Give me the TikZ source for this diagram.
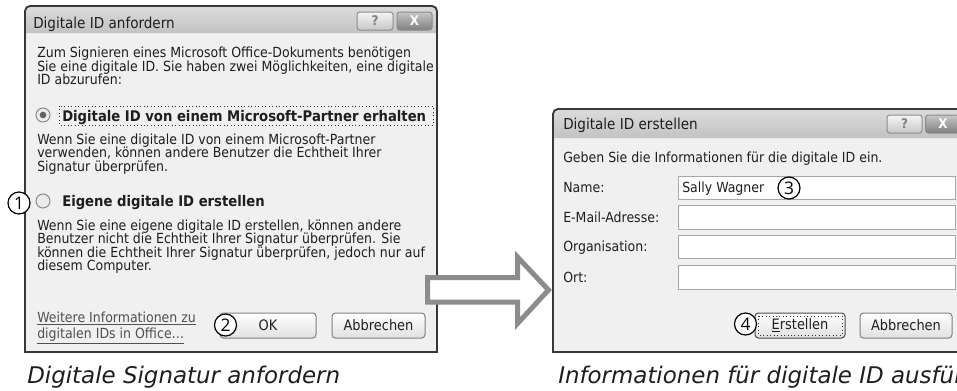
\documentclass[tikz,border=0pt]{standalone}
\usepackage{fontspec}
\newfontfamily\uifont{DejaVu Sans Condensed}
\newfontfamily\capfont{DejaVu Sans}
\newfontfamily\numfont{Open Sans}
\definecolor{winbg}{HTML}{F0F0F0}
\definecolor{tbtop}{HTML}{DCDCDC}
\definecolor{tbbot}{HTML}{C2C2C2}
\definecolor{txt}{HTML}{1E1E1E}
\definecolor{linkc}{HTML}{505050}
\definecolor{arrowc}{HTML}{8C8C8C}
\tikzset{
 ui/.style={anchor=base west, inner sep=0pt, text=txt, font=\uifont\fontsize{10.45}{12}\selectfont},
 uib/.style={ui, font=\uifont\bfseries\fontsize{11}{12}\selectfont},
 ttl/.style={ui, font=\uifont\fontsize{11.3}{13}\selectfont},
 frame/.style={draw=black!78, line width=1.4pt},
 btn/.style={draw=black!50, rounded corners=2.5pt, top color=white, bottom color=black!12, line width=0.75pt, minimum height=18.75pt, inner sep=0pt, text=txt, font=\uifont\fontsize{10.8}{12}\selectfont},
 tbbtn/.style={draw=black!45, rounded corners=2pt, top color=black!4, bottom color=black!22, line width=0.75pt, minimum height=13.5pt, inner sep=0pt, text=black!50, font=\uifont\bfseries\fontsize{10}{10}\selectfont},
 tbclose/.style={tbbtn, top color=black!22, bottom color=black!50, text=white},
 field/.style={draw=black!35, fill=white, line width=0.75pt},
 radio/.style={circle, draw=black!45, fill=black!8, line width=0.75pt, minimum size=10.5pt, inner sep=0pt},
 radiodot/.style={circle, fill=black!62, minimum size=5pt, inner sep=0pt},
 callout/.style={circle, draw=black, fill=white, line width=0.9pt, minimum size=16.5pt, inner sep=0pt, text=black, font=\numfont\fontsize{13}{13}\selectfont},
 focus/.style={draw=black!80, dotted, line width=0.6pt},
 caption/.style={anchor=base west, inner sep=0pt, text=txt, font=\capfont\itshape\fontsize{17.2}{19}\selectfont},
 blockarrow/.style={draw=arrowc, fill=white, line width=3.75pt, line join=miter},
}
\begin{document}
\begin{tikzpicture}[x=0.75pt,y=-0.75pt]
\clip (0,0) rectangle (957,390);
\fill[white] (0,0) rectangle (957,390);

% ---------------- left dialog ----------------
\fill[winbg] (25,352) -- (25,11) arc[start angle=180,end angle=90,radius=3.75pt] -- (432,6) arc[start angle=90,end angle=0,radius=3.75pt] -- (437,352) -- cycle;
\shade[top color=tbtop, bottom color=tbbot] (25,33) -- (25,11) arc[start angle=180,end angle=90,radius=3.75pt] -- (432,6) arc[start angle=90,end angle=0,radius=3.75pt] -- (437,33) -- cycle;
\draw[frame] (25,352) -- (25,11) arc[start angle=180,end angle=90,radius=3.75pt] -- (432,6) arc[start angle=90,end angle=0,radius=3.75pt] -- (437,352) -- cycle;

\node (tA) [ttl] at (33,28) {Digitale ID anfordern};
\node (hA) [tbbtn, minimum width=27pt] at (375,21) {?};
\node (xA) [tbclose, minimum width=26.25pt] at (414.5,21) {X};

\node (p1a) [ui] at (37,57) {Zum Signieren eines Microsoft Office-Dokuments benötigen};
\node (p1b) [ui] at (37,71) {Sie eine digitale ID. Sie haben zwei Möglichkeiten, eine digitale};
\node (p1c) [ui] at (37,84) {ID abzurufen:};

\node (r1) [radio] at (43,115) {};
\node (r1d) [radiodot] at (r1) {};
\draw[focus] (59,106) rectangle (433,125);
\node (o1) [uib] at (62,121) {Digitale ID von einem Microsoft-Partner erhalten};
\node (p2a) [ui] at (37,144) {Wenn Sie eine digitale ID von einem Microsoft-Partner};
\node (p2b) [ui] at (37,157.5) {verwenden, können andere Benutzer die Echtheit Ihrer};
\node (p2c) [ui] at (37,171) {Signatur überprüfen.};

\node (r2) [radio] at (43,201) {};
\node (o2) [uib] at (62,206) {Eigene digitale ID erstellen};
\node (p3a) [ui] at (37,230) {Wenn Sie eine eigene digitale ID erstellen, können andere};
\node (p3b) [ui] at (37,243.5) {Benutzer nicht die Echtheit Ihrer Signatur überprüfen. Sie};
\node (p3c) [ui] at (37,257) {können die Echtheit Ihrer Signatur überprüfen, jedoch nur auf};
\node (p3d) [ui] at (37,270.5) {diesem Computer.};

\node (lk1) [ui, text=linkc] at (37,322) {\underline{Weitere Informationen zu}};
\node (lk2) [ui, text=linkc] at (37,338) {\underline{digitalen IDs in Office…}};

\node (okA) [btn, minimum width=72pt] at (268,325.5) {OK};
\node (abA) [btn, minimum width=69.75pt] at (378.5,325.5) {Abbrechen};

% ---------------- right dialog ----------------
\fill[winbg] (553,352) -- (553,114) arc[start angle=180,end angle=90,radius=3.75pt] -- (980,109) -- (985,352) -- cycle;
\shade[top color=tbtop, bottom color=tbbot] (553,138) -- (553,114) arc[start angle=180,end angle=90,radius=3.75pt] -- (985,109) -- (985,138) -- cycle;
\draw[frame] (985,352) -- (553,352) -- (553,114) arc[start angle=180,end angle=90,radius=3.75pt] -- (985,109);

\node (tB) [ttl] at (563,129) {Digitale ID erstellen};
\node (hB) [tbbtn, minimum width=26.25pt] at (904.5,124) {?};
\node (xB) [tbclose, minimum width=26.25pt] at (943,124) {X};

\node (gB) [ui] at (563,162) {Geben Sie die Informationen für die digitale ID ein.};

\draw[field] (678,176) rectangle (955,199);
\draw[field] (678,205.5) rectangle (955,229);
\draw[field] (678,235) rectangle (955,258.5);
\draw[field] (678,265) rectangle (955,289.5);

\node (lName) [ui] at (563,192.5) {Name:};
\node (lMail) [ui] at (563,222) {E-Mail-Adresse:};
\node (lOrg) [ui] at (563,251.5) {Organisation:};
\node (lOrt) [ui] at (563,282) {Ort:};
\node (vName) [ui] at (682,192.5) {Sally Wagner};

\node (erB) [btn, draw=black!70, minimum width=67.5pt] at (800,325.5) {\underline{E}rstellen};
\draw[focus] (758,316) rectangle (842,335);
\node (abB) [btn, minimum width=69pt] at (906,325.5) {Abbrechen};

% ---------------- block arrow ----------------
\draw[blockarrow] (427.5,277.5) -- (517.5,277.5) -- (517.5,257) -- (548.5,290) -- (517.5,323.5) -- (517.5,302) -- (427.5,302) -- cycle;

% ---------------- callouts ----------------
\node (c1) [callout] at (19,203) {1};
\node (c2) [callout] at (225.5,325) {2};
\node (c3) [callout] at (789,188) {3};
\node (c4) [callout] at (745.5,324) {4};

% ---------------- captions ----------------
\node (capA) [caption] at (27,383) {Digitale Signatur anfordern};
\node (capB) [caption] at (558,383) {Informationen für digitale ID ausfüllen};
\end{tikzpicture}
\end{document}
